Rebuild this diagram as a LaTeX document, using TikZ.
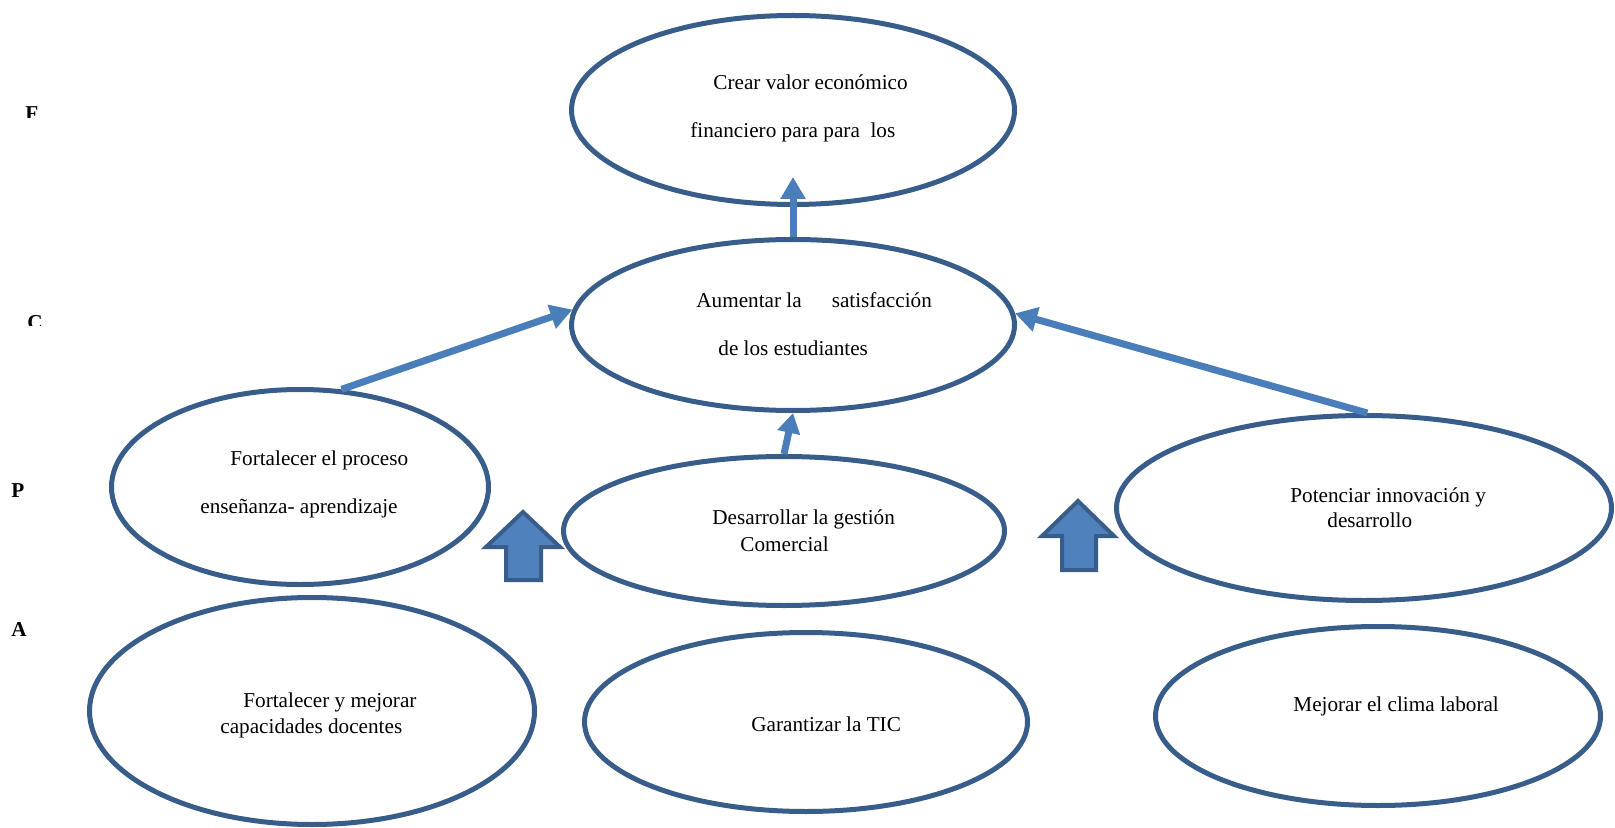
\documentclass[tikz,border=0pt]{standalone}
\usepackage{fontspec}
\setmainfont{Liberation Serif}
\usetikzlibrary{shapes.geometric,arrows.meta}
\definecolor{ringblue}{HTML}{385D8A}
\definecolor{linkblue}{HTML}{4A7EBB}
\definecolor{fillblue}{HTML}{4F81BD}

\begin{document}
\begin{tikzpicture}[x=0.5pt,y=-0.5pt,
  goal/.style={ellipse, draw=ringblue, line width=2.5pt, inner sep=0pt},
  lbl/.style={anchor=base west, inner sep=0pt, text=black, font=\fontsize{10.6}{12}\selectfont},
  side/.style={anchor=base west, inner sep=0pt, text=black, font=\bfseries\fontsize{10.6}{12}\selectfont},
  link/.style={draw=linkblue, line width=3.5pt, -{Triangle[width=12pt,length=11pt]}},
  shortlink/.style={draw=linkblue, line width=3.5pt, -{Triangle[width=11pt,length=10pt]}},
  bigup/.style={draw=ringblue, fill=fillblue, line width=2pt}]

\useasboundingbox (0,0) rectangle (1615,828);

% perspective letters down the left margin (cut off at the bottom)
\begin{scope}
  \clip (0,95) rectangle (60,118);
  \node[side] (lf) at (25,121) {F};
\end{scope}
\begin{scope}
  \clip (0,300) rectangle (60,326);
  \node[side] (lc) at (27,329) {C};
\end{scope}
\begin{scope}
  \clip (0,470) rectangle (60,496);
  \node[side] (lp) at (11,497) {P};
\end{scope}
\node[side] (la) at (11,636) {A};

% objectives
\node[goal, minimum width=221.5pt, minimum height=94.5pt] (fin) at (793,110) {};
\node[goal, minimum width=221.5pt, minimum height=85.5pt] (cli) at (793,325) {};
\node[goal, minimum width=188.5pt, minimum height=97.5pt] (proc1) at (300,487) {};
\node[goal, minimum width=220.5pt, minimum height=74.5pt] (proc2) at (784,531) {};
\node[goal, minimum width=247.5pt, minimum height=92.5pt] (proc3) at (1364,508) {};
\node[goal, minimum width=222.5pt, minimum height=113.5pt] (lrn1) at (312,711) {};
\node[goal, minimum width=221.5pt, minimum height=89.5pt] (lrn2) at (806,722) {};
\node[goal, minimum width=222.5pt, minimum height=89.5pt] (lrn3) at (1378,716) {};

% texts
\node[lbl] (t1a) at (713,90) {Crear valor económico};
\node[lbl] (t1b) at (690,138) {financiero para para~ los};
\node[lbl] (t2a) at (696,307) {Aumentar la\hspace{15pt}satisfacción};
\node[lbl] (t2b) at (718,356) {de los estudiantes};
\node[lbl] (t3a) at (230,465) {Fortalecer el proceso};
\node[lbl] (t3b) at (200,513) {enseñanza- aprendizaje};
\node[lbl] (t4a) at (712,524) {Desarrollar la gestión};
\node[lbl] (t4b) at (740,551) {Comercial};
\node[lbl] (t5a) at (1290,502) {Potenciar innovación y};
\node[lbl] (t5b) at (1327,527) {desarrollo};
\node[lbl] (t6a) at (243,707) {Fortalecer y mejorar};
\node[lbl] (t6b) at (220,733) {capacidades docentes};
\node[lbl] (t7) at (751,731) {Garantizar la TIC};
\node[lbl] (t8) at (1293,711) {Mejorar el clima laboral};

% cause-effect links
\coordinate (ftip) at (793,177);
\draw[link] (cli.north) -- (ftip);
\draw[link] (proc1.67) -- (cli.176.7);
\draw[link] (proc3.88) -- (cli.3.3);
\draw[shortlink] (proc2.north) -- (cli.south);

% block arrows between the lower levels
\draw[bigup] (523,512) -- (560,547) -- (541,547) -- (541,580) -- (506,580)
  -- (506,547) -- (486,547) -- cycle;
\draw[bigup] (1078,501) -- (1114,536) -- (1096,536) -- (1096,570) -- (1062,570)
  -- (1062,536) -- (1042,536) -- cycle;
\end{tikzpicture}
\end{document}
